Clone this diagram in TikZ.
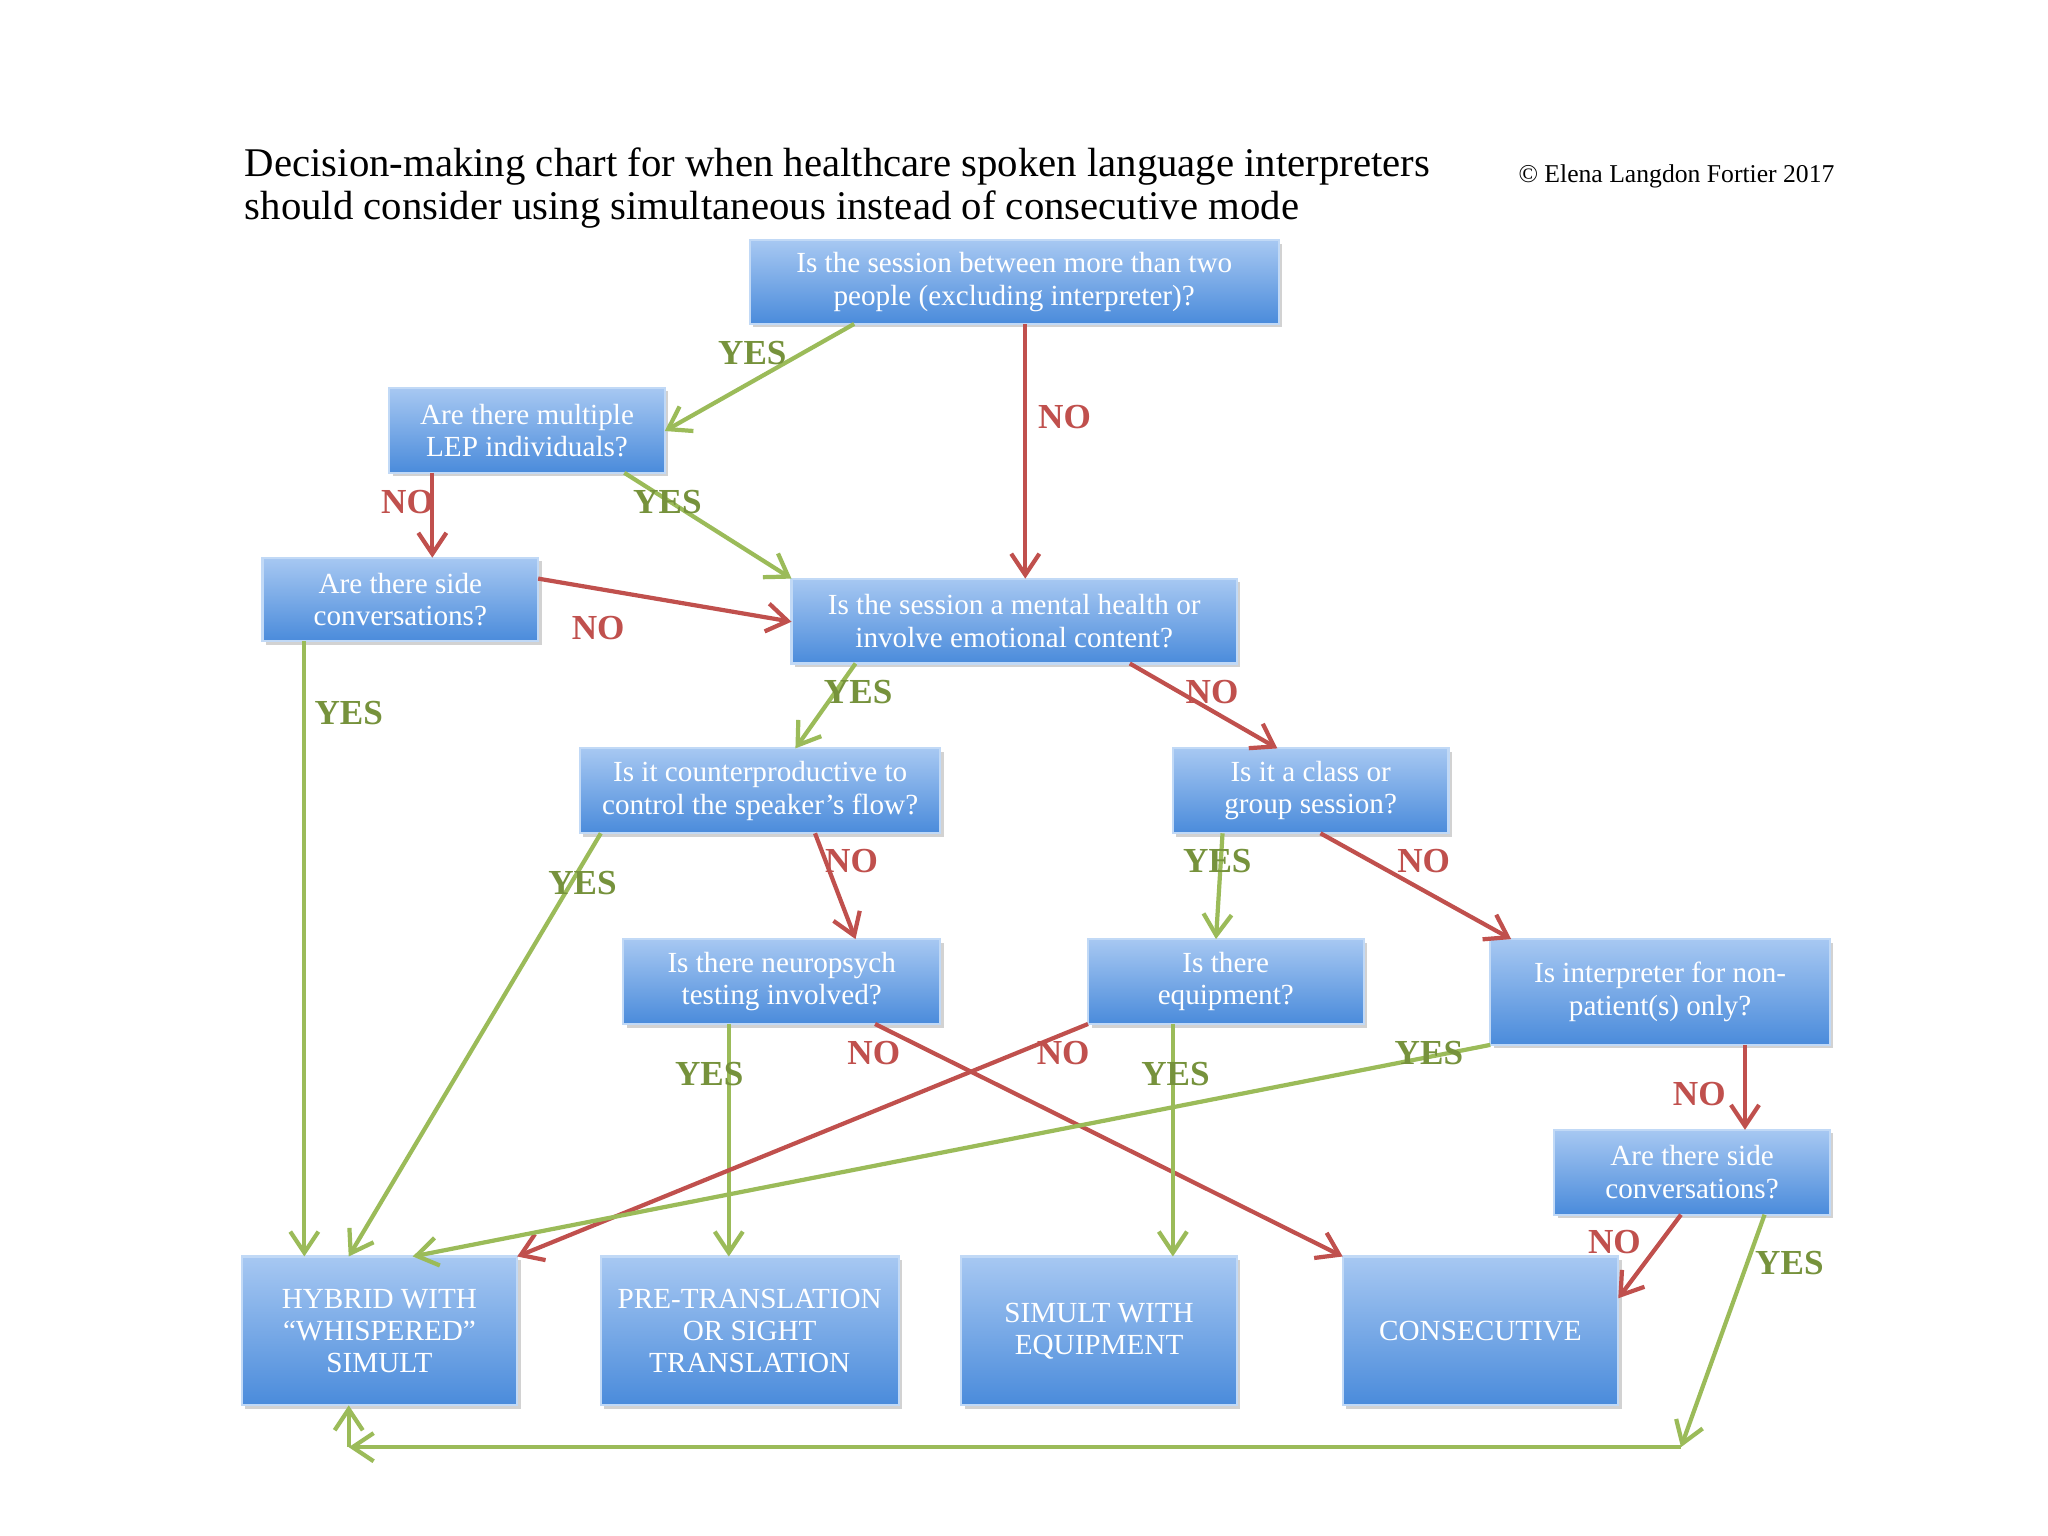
\documentclass[tikz,border=0pt]{standalone}
\usepackage{fontspec}
\setmainfont{Liberation Serif}
\usetikzlibrary{arrows.meta,shadows}

\definecolor{boxtop}{HTML}{A7C8F2}
\definecolor{boxbot}{HTML}{4A8BDB}
\definecolor{yesline}{HTML}{9BBB59}
\definecolor{yestext}{HTML}{76923C}
\definecolor{noline}{HTML}{C0504D}

\tikzset{
  qbox/.style={draw=boxtop!70!white, line width=0.6pt, top color=boxtop, bottom color=boxbot,
    text=white, align=center, font=\fontsize{8.3}{9.2}\selectfont, inner sep=0pt,
    drop shadow={shadow xshift=1pt, shadow yshift=-1pt, opacity=0.35}},
  yes/.style={draw=yesline, line width=1.2pt, -{Straight Barb[length=6pt,width=8pt]}},
  no/.style={draw=noline, line width=1.2pt, -{Straight Barb[length=6pt,width=8pt]}},
  yeslab/.style={text=yestext, font=\bfseries\fontsize{10}{12}\selectfont},
  nolab/.style={text=noline, font=\bfseries\fontsize{10}{12}\selectfont}
}

\newcommand{\qnode}[6]{% name, x1, y1, x2, y2, text
  \node[qbox, minimum width={(#4-#2)*0.01306cm}, minimum height={(#5-#3)*0.01306cm}]
    (#1) at ({(#2+#4)/2},{(#3+#5)/2}) {#6};}

\begin{document}
\begin{tikzpicture}[x=0.01306cm, y=-0.01306cm]
  \useasboundingbox[fill=white] (0,0) rectangle (1568,1176);

  % title
  \node[anchor=west, align=left, font=\fontsize{11.6}{12.3}\selectfont] (title) at (178,144)
    {Decision-making chart for when healthcare spoken language interpreters\\
     should consider using simultaneous instead of consecutive mode};
  \node[anchor=east, font=\fontsize{7.3}{9}\selectfont] (copy) at (1414,135) {\textcopyright{} Elena Langdon Fortier 2017};

  % questions
  \qnode{q1}{574}{184}{979}{248}{Is the session between more than two\\people (excluding interpreter)?}
  \qnode{q2}{298}{297}{509}{362}{Are there multiple\\LEP individuals?}
  \qnode{q3}{201}{427}{412}{491}{Are there side\\conversations?}
  \qnode{q4}{606}{443}{947}{508}{Is the session a mental health or\\involve emotional content?}
  \qnode{q5}{444}{573}{720}{638}{Is it counterproductive to\\control the speaker's flow?}
  \qnode{q6}{898}{573}{1109}{638}{Is it a class or\\group session?}
  \qnode{q7}{477}{719}{720}{784}{Is there neuropsych\\testing involved?}
  \qnode{q8}{833}{719}{1044}{784}{Is there\\equipment?}
  \qnode{q9}{1141}{719}{1401}{800}{Is interpreter for non-\\patient(s) only?}
  \qnode{q10}{1190}{865}{1401}{930}{Are there side\\conversations?}

  % results
  \qnode{r1}{185}{962}{396}{1076}{HYBRID WITH\\``WHISPERED''\\SIMULT}
  \qnode{r2}{460}{962}{688}{1076}{PRE-TRANSLATION\\OR SIGHT\\TRANSLATION}
  \qnode{r3}{736}{962}{947}{1076}{SIMULT WITH\\EQUIPMENT}
  \qnode{r4}{1028}{962}{1239}{1076}{CONSECUTIVE}

  % connector ends
  \coordinate (a1) at (654,248);  \coordinate (b1) at (509,330);
  \coordinate (a2) at (785,248);  \coordinate (b2) at (785,443);
  \coordinate (a3) at (478,362);  \coordinate (b3) at (606,443);
  \coordinate (a4) at (331,362);  \coordinate (b4) at (331,427);
  \coordinate (a5) at (412,443);  \coordinate (b5) at (606,476);
  \coordinate (a6) at (233,491);  \coordinate (b6) at (233,962);
  \coordinate (a7) at (655,508);  \coordinate (b7) at (609,573);
  \coordinate (a8) at (865,508);  \coordinate (b8) at (978,573);
  \coordinate (a9) at (460,638);  \coordinate (b9) at (267,962);
  \coordinate (a10) at (624,638); \coordinate (b10) at (655,719);
  \coordinate (a11) at (936,638); \coordinate (b11) at (931,719);
  \coordinate (a12) at (1011,638); \coordinate (b12) at (1157,719);
  \coordinate (a13) at (558,784); \coordinate (b13) at (558,962);
  \coordinate (a14) at (670,784); \coordinate (b14) at (1028,962);
  \coordinate (a15) at (833,784); \coordinate (b15) at (396,962);
  \coordinate (a16) at (898,784); \coordinate (b16) at (898,962);
  \coordinate (a17) at (1141,800); \coordinate (b17) at (316,962);
  \coordinate (a18) at (1336,800); \coordinate (b18) at (1336,865);
  \coordinate (a19) at (1287,930); \coordinate (b19) at (1239,994);
  \coordinate (a20) at (1351,930); \coordinate (c20) at (1287,1108);
  \coordinate (d20) at (267,1108); \coordinate (b20) at (267,1076);

  % connectors
  \draw[yes] (a1) -- (b1);   \node[yeslab] (l1) at (576,270) {YES};
  \draw[no] (a2) -- (b2);    \node[nolab] (l2) at (815,319) {NO};
  \draw[yes] (a3) -- (b3);   \node[yeslab] (l3) at (511,384) {YES};
  \draw[no] (a4) -- (b4);    \node[nolab] (l4) at (312,384) {NO};
  \draw[no] (a5) -- (b5);    \node[nolab] (l5) at (458,481) {NO};
  \draw[yes] (a6) -- (b6);   \node[yeslab] (l6) at (267,546) {YES};
  \draw[yes] (a7) -- (b7);   \node[yeslab] (l7) at (657,530) {YES};
  \draw[no] (a8) -- (b8);    \node[nolab] (l8) at (928,530) {NO};
  \draw[yes] (a9) -- (b9);   \node[yeslab] (l9) at (446,676) {YES};
  \draw[no] (a10) -- (b10);  \node[nolab] (l10) at (652,659) {NO};
  \draw[yes] (a11) -- (b11); \node[yeslab] (l11) at (932,659) {YES};
  \draw[no] (a12) -- (b12);  \node[nolab] (l12) at (1090,659) {NO};
  \draw[yes] (a13) -- (b13); \node[yeslab] (l13) at (543,822) {YES};
  \draw[no] (a14) -- (b14);  \node[nolab] (l14) at (669,806) {NO};
  \draw[no] (a15) -- (b15);  \node[nolab] (l15) at (814,806) {NO};
  \draw[yes] (a16) -- (b16); \node[yeslab] (l16) at (900,822) {YES};
  \draw[yes] (a17) -- (b17); \node[yeslab] (l17) at (1094,806) {YES};
  \draw[no] (a18) -- (b18);  \node[nolab] (l18) at (1301,838) {NO};
  \draw[no] (a19) -- (b19);  \node[nolab] (l19) at (1236,951) {NO};
  \draw[yes] (a20) -- (c20); \node[yeslab] (l20) at (1370,967) {YES};
  \draw[yes] (c20) -- (d20);
  \draw[yes] (d20) -- (b20);
\end{tikzpicture}
\end{document}
